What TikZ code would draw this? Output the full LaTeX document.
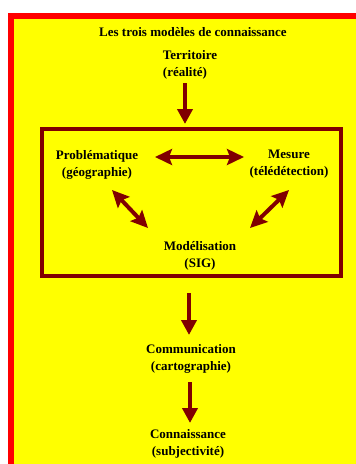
\documentclass[tikz,border=0pt]{standalone}
\usepackage{fontspec}
\setmainfont{Liberation Serif}
\usetikzlibrary{arrows.meta}
\definecolor{dred}{HTML}{800000}
\definecolor{yel}{HTML}{FFFF00}
\definecolor{rd}{HTML}{FF0000}
\tikzset{
  lbl/.style={inner sep=0pt, align=center, font=\bfseries\fontsize{13}{17}\selectfont, text=black},
  arr/.style={draw=dred, line width=4pt, -{Triangle[width=15pt,length=15pt]}},
  darr/.style={draw=dred, line width=4pt, {Stealth[inset=3pt,width=16pt,length=17pt]}-{Stealth[inset=3pt,width=16pt,length=17pt]}},
}
\begin{document}
\begin{tikzpicture}[x=1pt,y=-1pt]
\useasboundingbox (0,0) rectangle (356,464);
\fill[white] (0,0) rectangle (356,464);
\fill[rd] (8,13) rectangle (356,464);
\fill[yel] (14,19) rectangle (356,464);
\draw[dred, line width=4pt] (42,129) rectangle (341,275.5);

\node[lbl] (title) at (193,32) {Les trois modèles de connaissance};
\node[lbl, align=left] (terr) at (190,65) {Territoire\\(réalité)};
\node[lbl] (prob) at (97,165) {Problématique\\(géographie)};
\node[lbl] (mes) at (289,164) {Mesure\\(télédétection)};
\node[lbl] (mod) at (200,256) {Modélisation\\(SIG)};
\node[lbl] (comm) at (191,358.5) {Communication\\(cartographie)};
\node[lbl] (conn) at (188,443.5) {Connaissance\\(subjectivité)};

\coordinate (a1s) at (185,83);  \coordinate (a1e) at (185,124);
\coordinate (a2s) at (155,157); \coordinate (a2e) at (244,157);
\coordinate (a3s) at (112,190); \coordinate (a3e) at (148,228);
\coordinate (a4s) at (289,190); \coordinate (a4e) at (250,228);
\coordinate (a5s) at (189,293); \coordinate (a5e) at (189,335);
\coordinate (a6s) at (190,382); \coordinate (a6e) at (190,423);

\draw[arr] (a1s) -- (a1e);
\draw[darr] (a2s) -- (a2e);
\draw[darr] (a3s) -- (a3e);
\draw[darr] (a4s) -- (a4e);
\draw[arr] (a5s) -- (a5e);
\draw[arr] (a6s) -- (a6e);
\end{tikzpicture}
\end{document}
